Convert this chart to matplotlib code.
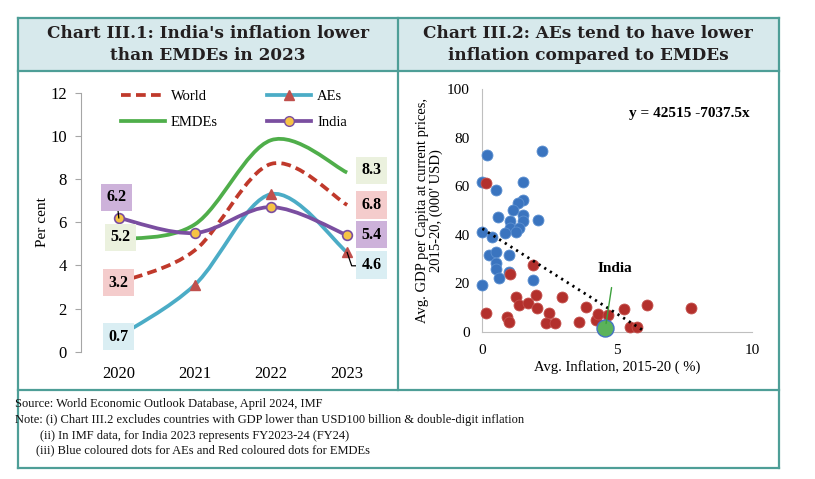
import numpy as np
import matplotlib
matplotlib.use("Agg")
import matplotlib.pyplot as plt
from matplotlib.path import Path
from matplotlib.patches import PathPatch, Rectangle
from matplotlib.lines import Line2D

# -----------------------
# Data: Chart III.1 (inflation, per cent)
# -----------------------
years = ["2020", "2021", "2022", "2023"]
world = [3.2, 4.7, 8.7, 6.8]
aes = [0.7, 3.1, 7.3, 4.6]
emdes = [5.2, 5.9, 9.8, 8.3]
india = [6.2, 5.5, 6.7, 5.4]

# -----------------------
# Data: Chart III.2 (avg inflation %, avg GDP per capita '000 USD)
# -----------------------
ae_infl = [0.19, 2.23, 0.0, 0.51, 1.52, 1.52, 1.33, 1.15, 0.57, 1.52, 1.52, 1.02,
           2.05, 1.02, 1.37, 1.25, 0.86, 0.0, 0.37, 0.25, 0.51, 1.0, 0.51, 0.51,
           0.63, 1.0, 1.87, 0.0]
ae_gdp = [73.0, 74.7, 61.9, 58.5, 61.9, 54.3, 53.0, 50.4, 47.5, 48.1, 45.6, 45.6,
          46.1, 42.6, 42.6, 41.3, 40.6, 41.3, 39.2, 31.6, 33.0, 31.6, 28.5, 25.7,
          22.0, 24.5, 21.3, 19.4]
em_infl = [0.14, 1.02, 1.89, 0.14, 1.25, 1.35, 1.70, 1.99, 2.04, 0.93, 1.0, 2.48,
           2.38, 2.69, 2.95, 3.59, 3.84, 4.20, 4.28, 4.65, 5.27, 5.47, 5.72, 6.12, 7.74]
em_gdp = [61.3, 24.0, 27.5, 7.6, 14.4, 11.0, 12.0, 15.1, 9.6, 6.2, 4.1, 7.6,
          3.4, 3.4, 14.4, 4.1, 10.2, 4.8, 7.2, 6.9, 9.5, 1.9, 1.9, 10.9, 9.6]
india_pt = (4.54, 1.4)
trend_a, trend_b = 42.515, -7.0375   # y = 42515 - 7037.5x (in '000)

# -----------------------
# Figure + frame
# -----------------------
W, H = 815, 479
fig = plt.figure(figsize=(W / 100, H / 100), dpi=100)
teal = "#4E9E97"
band = "#D7E9EC"
serif = ["Liberation Serif", "DejaVu Serif"]
title_font = ["DejaVu Serif"]


def fx(x):
    return x / W


def fy(y):
    return 1 - y / H


L, R, T, TB, FT, B, MID = 17.5, 778.7, 18.3, 71, 390, 468.3, 398
fig.patches.append(Rectangle((fx(L), fy(TB)), fx(R - L), (TB - T) / H,
                             transform=fig.transFigure, fc=band, ec="none", zorder=0))
frame = [((L, R), (T, T)), ((L, R), (B, B)), ((L, L), (T, B)), ((R, R), (T, B)),
         ((L, R), (TB, TB)), ((L, R), (FT, FT)), ((MID, MID), (T, FT))]
for xs, ys in frame:
    fig.add_artist(Line2D([fx(xs[0]), fx(xs[1])], [fy(ys[0]), fy(ys[1])],
                          transform=fig.transFigure, color=teal, lw=1.6))

fig.text(fx(208), fy(44.5), "Chart III.1: India's inflation lower\nthan EMDEs in 2023",
         ha="center", va="center", fontsize=12.2, fontweight="bold", family=title_font,
         color="#231F20", linespacing=1.32)
fig.text(fx(588), fy(44.5), "Chart III.2: AEs tend to have lower\ninflation compared to EMDEs",
         ha="center", va="center", fontsize=12.2, fontweight="bold", family=title_font,
         color="#231F20", linespacing=1.32)

notes = [(15, 404, "Source: World Economic Outlook Database, April 2024, IMF"),
         (15, 420.5, "Note: (i) Chart III.2 excludes countries with GDP lower than USD100 billion & double-digit inflation"),
         (40, 435.5, "(ii) In IMF data, for India 2023 represents FY2023-24 (FY24)"),
         (36.5, 450.5, "(iii) Blue coloured dots for AEs and Red coloured dots for EMDEs")]
for x, y, s in notes:
    fig.text(fx(x), fy(y), s, ha="left", va="center", fontsize=9, family=serif,
             color="#111111")

# -----------------------
# Chart III.1: smoothed lines
# -----------------------
ax1 = fig.add_axes([fx(80.7), fy(351.7), fx(385.2 - 80.7), (351.7 - 92.7) / H])
ax1.set_xlim(-0.5, 3.5)
ax1.set_ylim(0, 12)
xs = np.arange(len(years))


def smooth_path(x, y):
    # Excel-style smoothed line: Catmull-Rom converted to cubic Bezier segments
    pts = np.column_stack([x, y]).astype(float)
    n = len(pts)
    verts = [pts[0]]
    codes = [Path.MOVETO]
    for i in range(n - 1):
        p0 = pts[max(i - 1, 0)]
        p1 = pts[i]
        p2 = pts[i + 1]
        p3 = pts[min(i + 2, n - 1)]
        verts += [p1 + (p2 - p0) / 6, p2 - (p3 - p1) / 6, p2]
        codes += [Path.CURVE4] * 3
    return Path(verts, codes)


c_world, c_ae, c_em, c_in = "#C0392B", "#4BACC6", "#4FAE4A", "#7A4EA0"
dash = (0, (2.6, 1.4))
styles = [(world, c_world, dash), (aes, c_ae, "-"),
          (emdes, c_em, "-"), (india, c_in, "-")]
for vals, col, ls in styles:
    ax1.add_patch(PathPatch(smooth_path(xs, vals), fill=False, ec=col, lw=2.7,
                            linestyle=ls, capstyle="butt", zorder=2))
ax1.plot(xs, aes, ls="none", marker="^", ms=6.5, color="#C0504D", zorder=3)
ax1.plot(xs, india, ls="none", marker="o", ms=7, mfc="#F6C344", mec=c_in,
         mew=1.2, zorder=4)

# data labels
lab_fs = 11.5
boxes = [(0, 0.7, aes[0], "#DAEEF3"), (0, 3.2, world[0], "#F4CCCC"),
         (0.02, 5.3, emdes[0], "#EBF1DE"), (-0.03, 7.15, india[0], "#CDB2DA"),
         (3.32, 8.4, emdes[3], "#EBF1DE"), (3.32, 6.8, world[3], "#F4CCCC"),
         (3.32, 5.42, india[3], "#CDB2DA"), (3.32, 4.02, aes[3], "#DAEEF3")]
for bx, by, v, col in boxes:
    ax1.text(bx, by, f"{v:.1f}", ha="center", va="center", fontsize=lab_fs,
             fontweight="bold", family=serif, zorder=6,
             bbox=dict(boxstyle="square,pad=0.35", fc=col, ec="none"))
ax1.plot([3, 3.06, 3.15], [aes[3], 3.98, 3.98], color="black", lw=0.9, zorder=5)
ax1.plot([-0.01, 0.0], [6.55, india[0]], color="black", lw=0.9, zorder=5)

ax1.set_xticks(xs)
ax1.set_xticklabels(years)
ax1.set_yticks(range(0, 13, 2))
for s in ["top", "right", "bottom"]:
    ax1.spines[s].set_visible(False)
ax1.spines["left"].set_color("#A6A6A6")
ax1.tick_params(axis="y", length=4, color="#A6A6A6", labelsize=12, pad=6)
ax1.tick_params(axis="x", length=0, labelsize=12, pad=10)
for t in ax1.get_xticklabels() + ax1.get_yticklabels():
    t.set_family(serif)
ax1.set_ylabel("Per cent", fontsize=11, family=serif, labelpad=1)

# legend: row 1 World / AEs, row 2 EMDEs / India (column-major order)
h_world = Line2D([], [], color=c_world, lw=2.7, ls=dash)
h_ae = Line2D([], [], color=c_ae, lw=2.7, marker="^", ms=6.5, mfc="#C0504D",
              mec="#C0504D")
h_em = Line2D([], [], color=c_em, lw=2.7)
h_in = Line2D([], [], color=c_in, lw=2.7, marker="o", ms=7, mfc="#F6C344", mec=c_in)
ax1.legend([h_world, h_em, h_ae, h_in], ["World", "EMDEs", "AEs", "India"], ncol=2,
           frameon=False, loc="upper left", bbox_to_anchor=(0.09, 1.06),
           handlelength=3.0, handletextpad=0.4, columnspacing=3.4, labelspacing=0.85,
           prop={"family": serif, "size": 10.5})

# -----------------------
# Chart III.2: scatter
# -----------------------
ax2 = fig.add_axes([fx(482.3), fy(331.7), fx(752 - 482.3), (331.7 - 89.3) / H])
ax2.set_xlim(0, 10)
ax2.set_ylim(0, 100)
ax2.scatter(ae_infl, ae_gdp, s=62, color="#3A74BF", ec="#5B8FD0", lw=0.6,
            zorder=3, clip_on=False)
ax2.scatter(em_infl, em_gdp, s=62, color="#B3302C", ec="#C4504C", lw=0.6,
            zorder=3, clip_on=False)
tx = np.linspace(0, 6, 50)
ax2.plot(tx, trend_a + trend_b * tx, color="black", lw=2, ls=(0, (0.8, 1.6)),
         zorder=4)
ax2.scatter([india_pt[0]], [india_pt[1]], s=150, color="#5BB35B", ec="#4472C4",
            lw=1, zorder=5, clip_on=False)
ax2.annotate("India", xy=(india_pt[0] + 0.05, india_pt[1] + 2), xytext=(4.9, 26),
             ha="center", va="center", fontsize=11, fontweight="bold", family=serif,
             arrowprops=dict(arrowstyle="-", color="#3CA03C", lw=1,
                             shrinkA=7, shrinkB=0), zorder=6)
ax2.text(9.9, 90, "y = 42515 -7037.5x", ha="right", va="center", fontsize=11,
         fontweight="bold", family=serif)
ax2.set_xticks([0, 5, 10])
ax2.set_yticks(range(0, 101, 20))
for s in ["top", "right"]:
    ax2.spines[s].set_visible(False)
for s in ["left", "bottom"]:
    ax2.spines[s].set_color("#BFBFBF")
ax2.tick_params(length=0, labelsize=11, pad=9)
for t in ax2.get_xticklabels() + ax2.get_yticklabels():
    t.set_family(serif)
ax2.set_xlabel("Avg. Inflation, 2015-20 ( %)", fontsize=10.5, family=serif,
               labelpad=2)
ax2.set_ylabel("Avg. GDP per Capita at current prices,\n2015-20, (000' USD)",
               fontsize=10.5, family=serif, labelpad=3, linespacing=1.05)

fig.savefig("out.png", dpi=100)
